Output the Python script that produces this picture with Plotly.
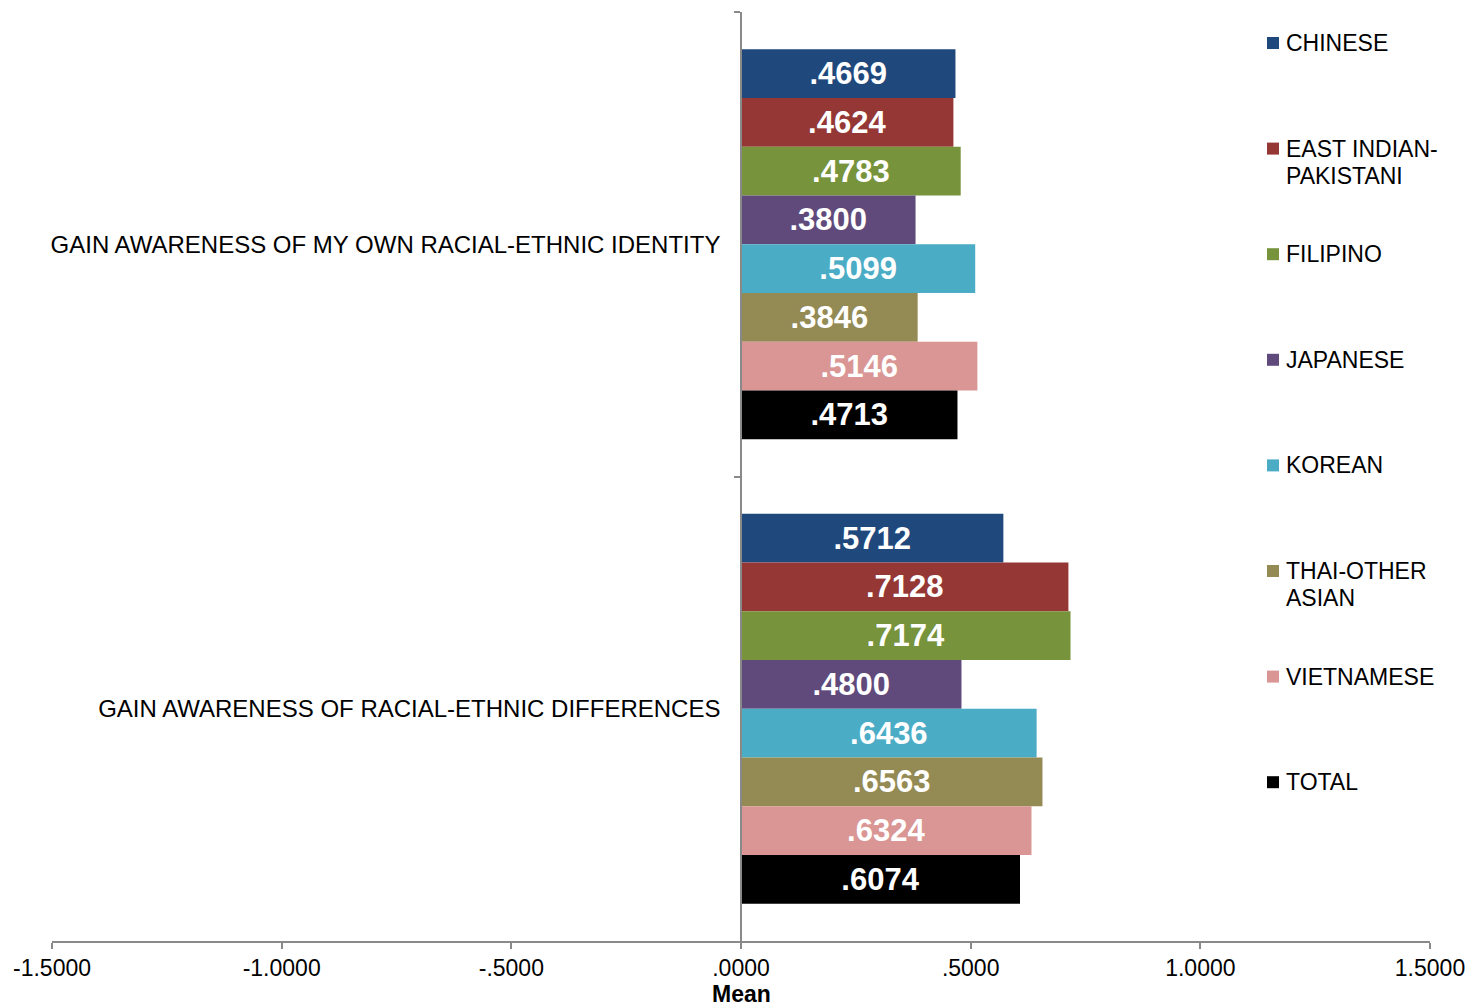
import plotly.graph_objects as go

categories = [
    "GAIN AWARENESS OF MY OWN RACIAL-ETHNIC IDENTITY",
    "GAIN AWARENESS OF RACIAL-ETHNIC DIFFERENCES",
]
series_names = ["CHINESE", "EAST INDIAN-PAKISTANI", "FILIPINO", "JAPANESE",
                "KOREAN", "THAI-OTHER ASIAN", "VIETNAMESE", "TOTAL"]
legend_labels = ["CHINESE", "EAST INDIAN-\nPAKISTANI", "FILIPINO", "JAPANESE",
                 "KOREAN", "THAI-OTHER\nASIAN", "VIETNAMESE", "TOTAL"]
chinese = [0.4669, 0.5712]
east_indian = [0.4624, 0.7128]
filipino = [0.4783, 0.7174]
japanese = [0.3800, 0.4800]
korean = [0.5099, 0.6436]
thai_other = [0.3846, 0.6563]
vietnamese = [0.5146, 0.6324]
total = [0.4713, 0.6074]
series_values = [chinese, east_indian, filipino, japanese, korean, thai_other, vietnamese, total]
colors = ["#1F497D", "#953735", "#77933C", "#604A7B", "#4BACC6", "#948A54", "#D99694", "#000000"]

x_tickvals = [-1.5, -1.0, -0.5, 0.0, 0.5, 1.0, 1.5]
x_ticktext = ["-1.5000", "-1.0000", "-.5000", ".0000", ".5000", "1.0000", "1.5000"]
x_title = "Mean"

FONT = "Liberation Sans, Arial, sans-serif"
GRAY = "#898989"


def fmt(v):
    s = f"{v:.4f}"
    if s.startswith("0"):
        s = s[1:]
    elif s.startswith("-0"):
        s = "-" + s[2:]
    return s


fig = go.Figure()
for name, vals, col in zip(series_names, series_values, colors):
    fig.add_trace(go.Bar(
        y=categories, x=vals, orientation="h", name=name,
        marker=dict(color=col, line=dict(width=0)),
        text=[fmt(v) for v in vals], textposition="inside",
        insidetextanchor="middle", textangle=0,
        textfont=dict(family=FONT, size=31, color="white", weight="bold"),
        showlegend=False,
    ))

W, H = 1470, 1006
# plot area in screen pixels
PL, PR, PT, PB = 52, 1430, 12, 941
ml, mr, mt, mb = PL, W - PR, PT, H - PB


def sx(px):
    return (px - PL) / (PR - PL)


def sy(py):
    return 1 - (py - PT) / (PB - PT)


# manual legend
annotations = []
shapes = []
for i, (lab, col) in enumerate(zip(legend_labels, colors)):
    cy = 43 + 105.6 * i
    for j, line in enumerate(lab.split("\n")):
        annotations.append(dict(
            xref="paper", yref="paper", x=sx(1284), y=sy(cy + 27 * j),
            xanchor="left", yanchor="middle", text=line, showarrow=False,
            font=dict(family=FONT, size=23, color="black"),
        ))
    shapes.append(dict(
        type="rect", xref="paper", yref="paper",
        xsizemode="pixel", ysizemode="pixel",
        xanchor=sx(1273), yanchor=sy(cy),
        x0=-6, x1=6, y0=-6, y1=6,
        fillcolor=col, line=dict(width=0),
    ))

annotations.append(dict(
    xref="x", yref="paper", x=0, y=sy(994), xanchor="center", yanchor="middle",
    text=f"<b>{x_title}</b>", showarrow=False,
    font=dict(family=FONT, size=23, color="black"),
))

fig.update_layout(
    width=W, height=H,
    margin=dict(l=ml, r=mr, t=mt, b=mb, autoexpand=False),
    paper_bgcolor="white", plot_bgcolor="white",
    barmode="group", bargap=0.16, bargroupgap=0,
    uniformtext=dict(minsize=31, mode="show"),
    font=dict(family=FONT, size=23, color="black"),
    annotations=annotations, shapes=shapes,
    xaxis=dict(
        range=[-1.5, 1.5], tickvals=x_tickvals, ticktext=x_ticktext,
        showgrid=False, zeroline=False, showline=True, linecolor=GRAY, linewidth=1.5,
        ticks="outside", ticklen=6, tickcolor=GRAY, tickwidth=1.5,
        tickfont=dict(family=FONT, size=23, color="black"),
        automargin=False,
    ),
    yaxis=dict(
        autorange="reversed", anchor="free", position=0.5,
        showline=True, linecolor=GRAY, linewidth=1.5,
        ticks="outside", tickson="boundaries", ticklen=6, tickcolor=GRAY, tickwidth=1.5,
        ticklabelstandoff=15,
        tickfont=dict(family=FONT, size=24, color="black"),
        showgrid=False, zeroline=False, automargin=False,
    ),
)

fig.write_html(
    "out.html",
    config={"displayModeBar": False},
    post_script="document.body.style.margin='0';document.body.style.overflow='hidden';",
)
